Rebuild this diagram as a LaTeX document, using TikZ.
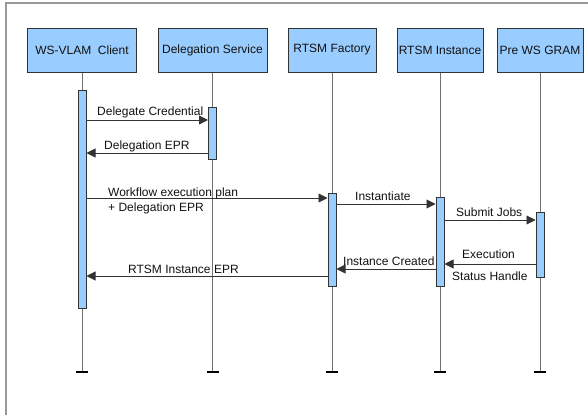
\documentclass[tikz,border=0pt]{standalone}
\usepackage{fontspec}
\setmainfont{Liberation Sans}
\usetikzlibrary{arrows.meta}
\definecolor{boxblue}{HTML}{99CCFF}
\definecolor{edge}{HTML}{333333}
\definecolor{life}{HTML}{707070}
\definecolor{txt}{HTML}{111111}
\tikzset{
  actor/.style={draw=edge, line width=1pt, fill=boxblue, minimum height=44pt,
    inner sep=0pt, font=\fontsize{12}{14}\selectfont, text=txt},
  actbar/.style={draw=edge, line width=1pt, fill=boxblue, minimum width=8pt,
    inner sep=0pt},
  lifeline/.style={draw=life, line width=1pt},
  tee/.style={draw=black, line width=1.5pt},
  msg/.style={draw=edge, line width=0.9pt, -{Triangle[length=9pt,width=9pt]}},
  lbl/.style={font=\fontsize{12}{14}\selectfont, text=txt, inner sep=0pt, anchor=base west},
  frameline/.style={draw=gray!80, line width=1.5pt}
}
\begin{document}
\begin{tikzpicture}[x=1pt, y=-1pt]
\useasboundingbox (0,0) rectangle (588,415);

% outer frame (only top and left edges fall inside the page)
\draw[frameline] (6,415) -- (6,3) -- (588,3);

% participants
\node[actor, minimum width=109pt] (client) at (82,50) {WS-VLAM\ \ Client};
\node[actor, minimum width=109pt] (deleg) at (212.5,50) {Delegation Service};
\node[actor, minimum width=88pt]  (fact) at (332,50) {RTSM Factory};
\node[actor, minimum width=86pt]  (inst) at (440,50) {RTSM Instance};
\node[actor, minimum width=86pt]  (gram) at (540,50) {Pre WS GRAM};

% lifeline ends
\foreach \p in {client,deleg,fact,inst,gram}{
  \coordinate (\p-end) at (\p.south |- 0,372);
  \draw[lifeline] (\p.south) -- (\p-end);
  \draw[tee] ([xshift=-6pt]\p-end) -- ([xshift=6pt]\p-end);
}

% activation bars
\node[actbar, minimum height=218pt] (aclient) at (client.south |- 0,199) {};
\node[actbar, minimum height=52pt]  (adeleg) at (deleg.south |- 0,133) {};
\node[actbar, minimum height=93pt]  (afact) at (fact.south |- 0,239.5) {};
\node[actbar, minimum height=89pt]  (ainst) at (inst.south |- 0,241.5) {};
\node[actbar, minimum height=65pt]  (agram) at (gram.south |- 0,244.5) {};

% messages
\draw[msg] (aclient.east |- 0,120) -- (adeleg.west |- 0,120);
\node[lbl] (l1) at (97,115) {Delegate Credential};

\draw[msg] (adeleg.west |- 0,153) -- (aclient.east |- 0,153);
\node[lbl] (l2) at (104,149) {Delegation EPR};

\draw[msg] (aclient.east |- 0,198) -- (afact.west |- 0,198);
\node[lbl] (l3) at (108,196) {Workflow execution plan};
\node[lbl] (l3b) at (108,211.5) {+ Delegation EPR};

\draw[msg] (afact.east |- 0,204) -- (ainst.west |- 0,204);
\node[lbl] (l4) at (355,200.5) {Instantiate};

\draw[msg] (ainst.east |- 0,220) -- (agram.west |- 0,220);
\node[lbl] (l5) at (456,216.5) {Submit Jobs};

\draw[msg] (agram.west |- 0,264) -- (ainst.east |- 0,264);
\node[lbl] (l6) at (462,258.5) {Execution};
\node[lbl] (l6b) at (452,280.5) {Status Handle};

\draw[msg] (ainst.west |- 0,269) -- (afact.east |- 0,269);
\node[lbl] (l7) at (343,265.5) {Instance Created};

\draw[msg] (afact.west |- 0,276) -- (aclient.east |- 0,276);
\node[lbl] (l8) at (128,273.5) {RTSM Instance EPR};
\end{tikzpicture}
\end{document}
